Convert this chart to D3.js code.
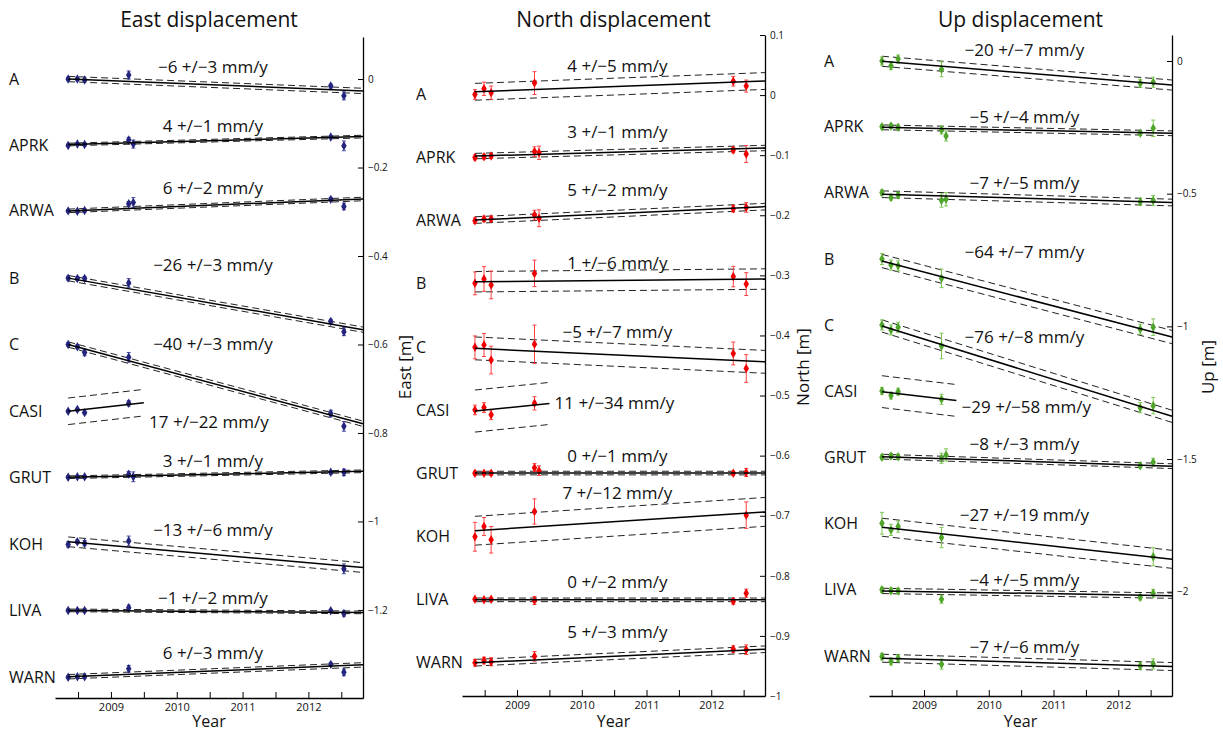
<!DOCTYPE html>
<html>
  <head>
    <title> GPS displacement </title>
    <script src = "https://d3js.org/d3.v7.min.js" charset = "utf-8"></script>
    <style>
      body { margin: 0; background: #fff; }
      text { font-family: "Open Sans", "DejaVu Sans", sans-serif; fill: #111; }
    </style>
  </head>

  <body>
    <script>
      // stations and survey epochs
      var stations = ["A", "APRK", "ARWA", "B", "C", "CASI", "GRUT", "KOH", "LIVA", "WARN"];
      var epochs = [2008.35, 2008.49, 2008.60, 2009.27, 2009.34, 2012.34, 2012.54];
      var fitEnd = [2012.83, 2012.83, 2012.83, 2012.83, 2012.83, 2009.5, 2012.83, 2012.83, 2012.83, 2012.83];
      var yearTicks = [2008.5, 2009, 2009.5, 2010, 2010.5, 2011, 2011.5, 2012, 2012.5];

      // east component [m]
      var eastVal = [
        [0.000, 0.000, -0.002, 0.009, null, -0.016, -0.038],
        [-0.150, -0.147, -0.148, -0.138, -0.147, -0.131, -0.151],
        [-0.298, -0.299, -0.297, -0.282, -0.279, -0.272, -0.288],
        [-0.450, -0.451, -0.451, -0.461, null, -0.548, -0.571],
        [-0.600, -0.605, -0.618, -0.629, null, -0.756, -0.785],
        [-0.751, -0.747, -0.754, -0.733, null, null, null],
        [-0.900, -0.899, -0.899, -0.893, -0.899, -0.889, -0.889],
        [-1.052, -1.046, -1.049, -1.044, null, null, -1.107],
        [-1.201, -1.201, -1.201, -1.195, null, -1.202, -1.208],
        [-1.352, -1.351, -1.351, -1.333, null, -1.323, -1.341]
      ];
      var eastErr = [
        [0.004, 0.004, 0.004, 0.009, null, 0.0045, 0.009],
        [0.003, 0.003, 0.003, 0.006, 0.009, 0.003, 0.011],
        [0.003, 0.003, 0.003, 0.005, 0.011, 0.004, 0.0075],
        [0.0045, 0.0045, 0.0045, 0.0098, null, 0.005, 0.009],
        [0.004, 0.0045, 0.0075, 0.011, null, 0.0075, 0.011],
        [0.003, 0.003, 0.003, 0.006, null, null, null],
        [0.003, 0.003, 0.003, 0.006, 0.011, 0.004, 0.0075],
        [0.006, 0.004, 0.006, 0.011, null, null, 0.011],
        [0.003, 0.003, 0.003, 0.006, null, 0.003, 0.006],
        [0.003, 0.003, 0.003, 0.0075, null, 0.004, 0.0075]
      ];
      var eastStart = [0.000, -0.148, -0.298, -0.450, -0.600, -0.751, -0.900, -1.046, -1.201, -1.351];
      var eastRate = [-6, 4, 6, -26, -40, 17, 3, -13, -1, 6];
      var eastRateErr = [3, 1, 2, 3, 3, 22, 1, 6, 2, 3];
      var eastBand = [0.006, 0.003, 0.004, 0.006, 0.006, 0.03, 0.003, 0.011, 0.003, 0.005];
      var eastNote = [0.027, -0.106, -0.246, -0.421, -0.600, -0.776, -0.863, -1.019, -1.174, -1.297];
      var eastTicks = [0, -0.2, -0.4, -0.6, -0.8, -1, -1.2];

      // north component [m]
      var northVal = [
        [0.001, 0.0105, 0.004, 0.020, null, 0.023, 0.015],
        [-0.1037, -0.1026, -0.1015, -0.094, -0.096, -0.0915, -0.098],
        [-0.209, -0.206, -0.206, -0.1997, -0.205, -0.189, -0.187],
        [-0.3133, -0.306, -0.316, -0.2967, null, -0.302, -0.3145],
        [-0.4198, -0.416, -0.441, -0.4148, null, -0.430, -0.455],
        [-0.524, -0.520, -0.532, -0.513, null, null, null],
        [-0.6295, -0.6295, -0.6295, -0.620, -0.625, -0.6295, -0.628],
        [-0.735, -0.718, -0.740, -0.693, null, null, -0.699],
        [-0.839, -0.840, -0.839, -0.841, null, -0.8425, -0.829],
        [-0.9446, -0.941, -0.943, -0.934, null, -0.922, -0.923]
      ];
      var northErr = [
        [0.008, 0.011, 0.011, 0.019, null, 0.008, 0.010],
        [0.004, 0.004, 0.004, 0.008, 0.011, 0.0045, 0.014],
        [0.0045, 0.0045, 0.0045, 0.008, 0.014, 0.0055, 0.008],
        [0.019, 0.0205, 0.023, 0.022, null, 0.017, 0.019],
        [0.019, 0.019, 0.023, 0.032, null, 0.019, 0.023],
        [0.008, 0.008, 0.008, 0.011, null, null, null],
        [0.003, 0.003, 0.003, 0.0067, 0.008, 0.003, 0.0067],
        [0.024, 0.015, 0.022, 0.021, null, null, 0.022],
        [0.003, 0.003, 0.003, 0.0067, null, 0.0045, 0.0067],
        [0.0055, 0.0055, 0.0067, 0.008, null, 0.0055, 0.008]
      ];
      var northStart = [0.0055, -0.1015, -0.208, -0.3106, -0.4215, -0.5258, -0.629, -0.725, -0.840, -0.9446];
      var northRate = [4, 3, 5, 1, -5, 11, 0, 7, 0, 5];
      var northRateErr = [5, 1, 2, 6, 7, 34, 1, 12, 2, 3];
      var northBand = [0.014, 0.0045, 0.0055, 0.017, 0.019, 0.035, 0.003, 0.024, 0.003, 0.0055];
      var northNote = [0.048, -0.061, -0.158, -0.280, -0.394, -0.513, -0.6007, -0.663, -0.810, -0.893];
      var northTicks = [0.1, 0, -0.1, -0.2, -0.3, -0.4, -0.5, -0.6, -0.7, -0.8, -0.9, -1];

      // up component [m]
      var upVal = [
        [0.000, -0.0176, 0.0075, -0.0314, null, -0.084, -0.080],
        [-0.2475, -0.245, -0.250, -0.260, -0.2826, -0.2725, -0.2537],
        [-0.496, -0.514, -0.505, -0.526, -0.521, -0.530, -0.526],
        [-0.746, -0.769, -0.772, -0.819, null, -1.011, -1.003],
        [-0.9947, -1.0136, -1.0035, -1.0739, null, -1.3063, -1.2988],
        [-1.2434, -1.261, -1.246, -1.2748, null, null, null],
        [-1.4934, -1.4883, -1.491, -1.497, -1.4845, -1.5249, -1.512],
        [-1.742, -1.767, -1.7546, -1.796, null, null, -1.868],
        [-1.993, -1.996, -1.997, -2.028, null, -2.021, -2.006],
        [-2.2445, -2.2634, -2.2508, -2.273, null, -2.2796, -2.272]
      ];
      var upErr = [
        [0.015, 0.015, 0.015, 0.028, null, 0.015, 0.019],
        [0.0075, 0.0075, 0.0075, 0.015, 0.019, 0.0075, 0.031],
        [0.01, 0.01, 0.01, 0.025, 0.025, 0.0126, 0.019],
        [0.021, 0.019, 0.019, 0.035, null, 0.019, 0.031],
        [0.019, 0.019, 0.019, 0.048, null, 0.019, 0.031],
        [0.0126, 0.0126, 0.0126, 0.019, null, null, null],
        [0.009, 0.009, 0.009, 0.019, 0.023, 0.009, 0.015],
        [0.041, 0.021, 0.021, 0.038, null, null, 0.034],
        [0.01, 0.01, 0.01, 0.015, null, 0.01, 0.015],
        [0.0126, 0.0126, 0.0126, 0.019, null, 0.0126, 0.019]
      ];
      var upStart = [-0.001, -0.250, -0.502, -0.7536, -0.9985, -1.246, -1.491, -1.757, -1.997, -2.2506];
      var upRate = [-20, -5, -7, -64, -76, -29, -8, -27, -4, -7];
      var upRateErr = [7, 4, 5, 7, 8, 58, 3, 19, 5, 6];
      var upBand = [0.019, 0.009, 0.0126, 0.025, 0.023, 0.06, 0.009, 0.034, 0.01, 0.015];
      var upNote = [0.041, -0.210, -0.461, -0.7185, -1.039, -1.3025, -1.443, -1.7106, -1.9556, -2.2068];
      var upTicks = [0, -0.5, -1, -1.5, -2];

      var width = 1223;
      var height = 733;

      var svg = d3.select("body")
        .append("svg")
        .attr("width", width)
        .attr("height", height);

      // one entry per panel: data + where it sits on the page
      var panels = [
        { title: "East displacement", ylab: "East [m]", val: eastVal, err: eastErr, start: eastStart,
          rate: eastRate, rateErr: eastRateErr, band: eastBand, note: eastNote, ticks: eastTicks,
          yDom: [-1.399, 0.095], x0: 55, x1: 363, top: 37, bottom: 698, labX: 9, ylabX: 405,
          dot: "#24247e", bar: "#4646a6" },
        { title: "North displacement", ylab: "North [m]", val: northVal, err: northErr, start: northStart,
          rate: northRate, rateErr: northRateErr, band: northBand, note: northNote, ticks: northTicks,
          yDom: [-1, 0.1], x0: 462, x1: 765, top: 35, bottom: 696, labX: 416, ylabX: 803,
          dot: "#f00000", bar: "#ff4040" },
        { title: "Up displacement", ylab: "Up [m]", val: upVal, err: upErr, start: upStart,
          rate: upRate, rateErr: upRateErr, band: upBand, note: upNote, ticks: upTicks,
          yDom: [-2.393, 0.098], x0: 869, x1: 1172, top: 35, bottom: 696, labX: 824, ylabX: 1208,
          dot: "#4fa52a", bar: "#7cc850" }
      ];

      var fmt = d3.format("~g");

      panels.forEach(function(p) {
        var g = svg.append("g");

        var x = d3.scaleLinear()
          .domain([2008.15, 2012.83])
          .range([p.x0, p.x1]);

        var y = d3.scaleLinear()
          .domain(p.yDom)
          .range([p.bottom, p.top]);

        // axes, ticks pointing inward
        g.append("g")
          .attr("transform", "translate(0," + p.bottom + ")")
          .call(d3.axisBottom(x)
            .tickValues(yearTicks)
            .tickSizeInner(-6)
            .tickSizeOuter(0)
            .tickPadding(5)
            .tickFormat(function(d) { return d % 1 === 0 ? d : ""; }))
          .call(function(a) {
            a.selectAll("text").style("font-size", "11px").attr("font-family", null);
            a.select(".domain").attr("stroke-width", 1.3);
          });

        g.append("g")
          .attr("transform", "translate(" + p.x1 + ",0)")
          .call(d3.axisRight(y)
            .tickValues(p.ticks)
            .tickSizeInner(-5)
            .tickSizeOuter(0)
            .tickPadding(5)
            .tickFormat(function(d) { return fmt(d); }))
          .call(function(a) {
            a.selectAll("text").style("font-size", "10px").attr("font-family", null);
            a.select(".domain").attr("stroke-width", 1.3);
          });

        g.append("text")
          .attr("x", (p.x0 + p.x1) / 2)
          .attr("y", 27)
          .attr("text-anchor", "middle")
          .style("font-size", "21px")
          .text(p.title);

        g.append("text")
          .attr("x", (p.x0 + p.x1) / 2)
          .attr("y", 727)
          .attr("text-anchor", "middle")
          .style("font-size", "16px")
          .text("Year");

        g.append("text")
          .attr("transform", "translate(" + p.ylabX + "," + 367 + ") rotate(-90)")
          .attr("text-anchor", "middle")
          .attr("dy", "0.35em")
          .style("font-size", "17px")
          .text(p.ylab);

        stations.forEach(function(name, i) {
          var t0 = epochs[0];
          var t1 = fitEnd[i];
          var v0 = p.start[i];
          var v1 = v0 + p.rate[i] / 1000 * (t1 - t0);
          var short = t1 < 2010;

          // confidence band (dashed)
          [-1, 1].forEach(function(s) {
            g.append("line")
              .attr("x1", x(t0)).attr("y1", y(v0 + s * p.band[i]))
              .attr("x2", x(t1)).attr("y2", y(v1 + s * p.band[i]))
              .attr("stroke", "#222")
              .attr("stroke-width", 1)
              .attr("stroke-dasharray", "7,4");
          });

          // observations with error bars
          var pts = [];
          epochs.forEach(function(t, k) {
            if (p.val[i][k] !== null) pts.push({ t: t, v: p.val[i][k], e: p.err[i][k] });
          });

          var obs = g.append("g");
          obs.selectAll("path.bar")
            .data(pts)
            .enter()
            .append("path")
            .attr("class", "bar")
            .attr("fill", "none")
            .attr("stroke", p.bar)
            .attr("stroke-width", 1)
            .attr("d", function(d) {
              var cx = x(d.t), ya = y(d.v + d.e), yb = y(d.v - d.e);
              return "M" + (cx - 2) + "," + ya + "H" + (cx + 2) +
                "M" + cx + "," + ya + "V" + yb +
                "M" + (cx - 2) + "," + yb + "H" + (cx + 2);
            });

          obs.selectAll("path.dot")
            .data(pts)
            .enter()
            .append("path")
            .attr("class", "dot")
            .attr("fill", p.dot)
            .attr("d", d3.symbol().type(d3.symbolDiamond).size(26))
            .attr("transform", function(d) { return "translate(" + x(d.t) + "," + y(d.v) + ")"; });

          // fitted trend
          g.append("line")
            .attr("x1", x(t0)).attr("y1", y(v0))
            .attr("x2", x(t1)).attr("y2", y(v1))
            .attr("stroke", "#000")
            .attr("stroke-width", 1.5);

          // station name at its first value
          g.append("text")
            .attr("x", p.labX)
            .attr("y", y(p.val[i][0]))
            .attr("dy", "0.35em")
            .style("font-size", "16px")
            .text(name);

          // rate annotation
          g.append("text")
            .attr("x", short ? x(2009.58) : x(2010.55))
            .attr("y", y(p.note[i]))
            .attr("dy", "0.35em")
            .attr("text-anchor", short ? "start" : "middle")
            .style("font-size", "17px")
            .text(fmt(p.rate[i]) + " +/\u2212" + p.rateErr[i] + " mm/y");
        });
      });
    </script>
  </body>
</html>
